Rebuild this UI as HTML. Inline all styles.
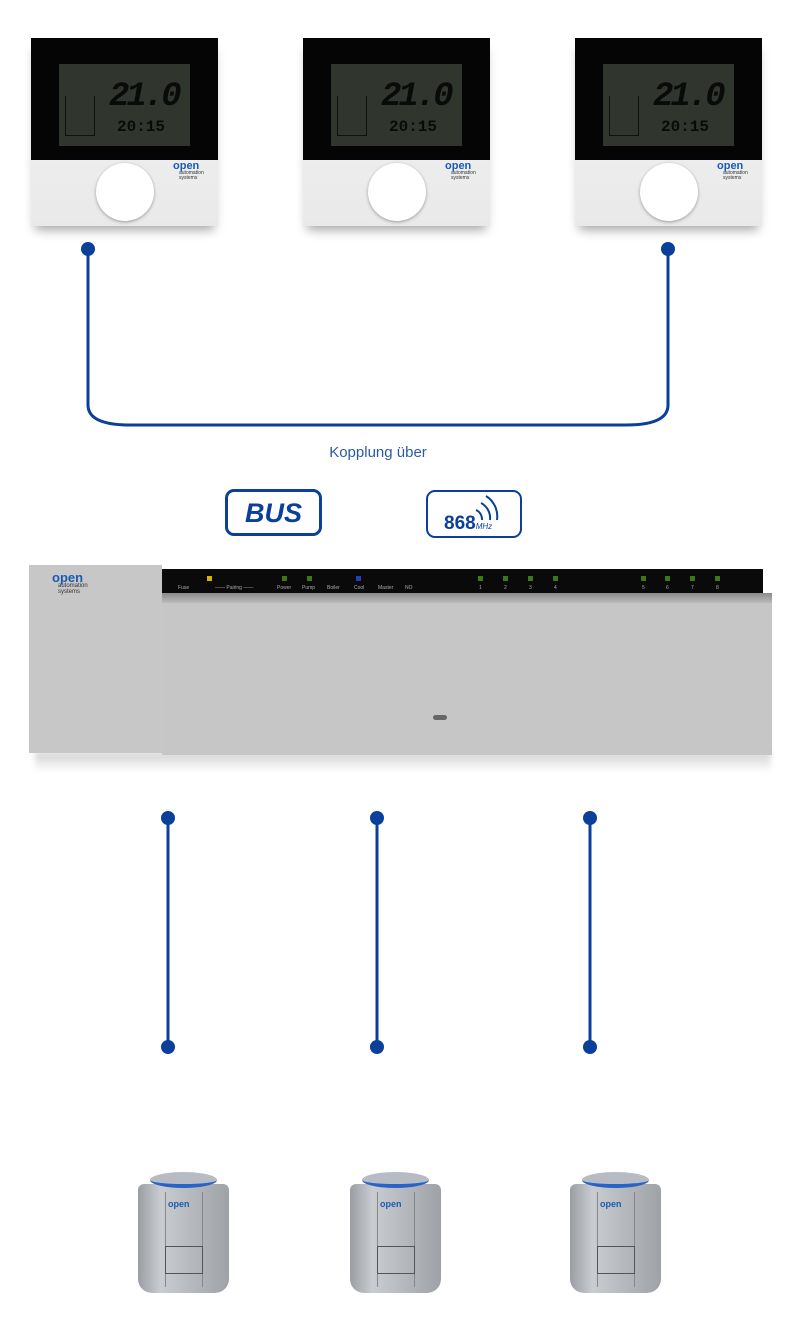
<!DOCTYPE html>
<html><head><meta charset="utf-8"><style>
*{margin:0;padding:0;box-sizing:border-box}
body{width:800px;height:1331px;background:#fff;position:relative;overflow:hidden;font-family:"Liberation Sans",sans-serif}
.a{position:absolute}
.th{position:absolute;width:187px;height:188px;background:linear-gradient(#f4f4f4,#e9e9e9);box-shadow:0 8px 10px -4px rgba(0,0,0,.35)}
.th .top{position:absolute;left:0;top:0;width:187px;height:122px;background:#050505}
.th .lcd{position:absolute;left:28px;top:26px;width:131px;height:82px;background:#30352e;color:#080808;overflow:hidden}
.th .big{position:absolute;left:50px;top:14px;font:bold 34px "Liberation Mono",monospace;letter-spacing:-3px;color:#0a0a0a;font-style:italic}
.th .sm{position:absolute;left:58px;top:54px;font:bold 16px "Liberation Mono",monospace;color:#0a0a0a}
.th .house{position:absolute;left:6px;top:32px;width:30px;height:40px;border:1px solid #111;border-top:none}
.th .knob{position:absolute;left:65px;top:125px;width:58px;height:58px;border-radius:50%;background:#fff;box-shadow:0 1px 3px rgba(0,0,0,.35)}
.logo{position:absolute;color:#1a5cb0;font:bold 11px "Liberation Sans",sans-serif;line-height:9px}
.logo i{display:block;font:normal 5px sans-serif;color:#333;font-style:normal;margin-left:6px;line-height:5px}
.act{position:absolute;width:91px;height:121px}
.act .b{position:absolute;left:0;top:12px;width:91px;height:109px;border-radius:6px 6px 14px 14px;background:linear-gradient(90deg,#9a9ea3,#c9ccd0 25%,#b8bbbf 55%,#9ea2a6)}
.act .c{position:absolute;left:12px;top:0;width:67px;height:16px;border-radius:50%;background:#b7bcc4;border-bottom:4px solid #2a63c8}
.act .p{position:absolute;left:27px;top:20px;width:38px;height:95px;border-left:1px solid #888;border-right:1px solid #888}
.act .q{position:absolute;left:27px;top:74px;width:38px;height:28px;border:1px solid #555}
.led{position:absolute;width:5px;height:5px;background:#3d7a16;top:576px}
.ll{position:absolute;top:585px;font:5px sans-serif;color:#aaa}
</style></head><body>

<div class="th" style="left:31px;top:38px"><div class="top"></div><div class="lcd"><div class="house"></div><div class="big">21.0</div><div class="sm">20:15</div></div><div class="knob"></div><div class="logo" style="left:142px;top:124px">open<i>automation<br>systems</i></div></div>
<div class="th" style="left:303px;top:38px"><div class="top"></div><div class="lcd"><div class="house"></div><div class="big">21.0</div><div class="sm">20:15</div></div><div class="knob"></div><div class="logo" style="left:142px;top:124px">open<i>automation<br>systems</i></div></div>
<div class="th" style="left:575px;top:38px"><div class="top"></div><div class="lcd"><div class="house"></div><div class="big">21.0</div><div class="sm">20:15</div></div><div class="knob"></div><div class="logo" style="left:142px;top:124px">open<i>automation<br>systems</i></div></div>

<svg class="a" style="left:0;top:0" width="800" height="1331">
<g stroke="#0a3f9a" stroke-width="3" fill="none">
<path d="M88 249 V405 Q88 425 130 425 H626 Q668 425 668 405 V249"/>
<line x1="168" y1="818" x2="168" y2="1047"/>
<line x1="377" y1="818" x2="377" y2="1047"/>
<line x1="590" y1="818" x2="590" y2="1047"/>
<path d="M476 510 a10 10 0 0 1 6 10 M481 503 a17 17 0 0 1 9 17 M486 496 a24 24 0 0 1 11 24" stroke-width="2"/>
</g>
<g fill="#0a3f9a">
<circle cx="88" cy="249" r="7"/><circle cx="668" cy="249" r="7"/>
<circle cx="168" cy="818" r="7"/><circle cx="377" cy="818" r="7"/><circle cx="590" cy="818" r="7"/>
<circle cx="168" cy="1047" r="7"/><circle cx="377" cy="1047" r="7"/><circle cx="590" cy="1047" r="7"/>
</g>
</svg>

<div class="a" style="left:300px;top:444px;width:156px;text-align:center;font-size:15px;color:#2a5aa8">Kopplung über</div>

<div class="a" style="left:225px;top:489px;width:97px;height:47px;border:3px solid #0a3f9a;border-radius:9px;color:#0a3f9a;font:italic bold 27px 'Liberation Sans',sans-serif;text-align:center;line-height:42px">BUS</div>
<div class="a" style="left:426px;top:490px;width:96px;height:48px;border:2px solid #0a3f9a;border-radius:9px"></div>
<div class="a" style="left:444px;top:513px;color:#0a3f9a;font:bold 19px 'Liberation Sans',sans-serif">868<span style="font:italic 8px sans-serif">MHz</span></div>

<div class="a" style="left:35px;top:752px;width:736px;height:20px;background:linear-gradient(rgba(0,0,0,.18),rgba(0,0,0,0));filter:blur(3px)"></div>
<div class="a" style="left:29px;top:565px;width:133px;height:188px;background:#c7c7c7"></div>
<div class="logo" style="left:52px;top:572px;font-size:13px;line-height:11px">open<i style="font-size:6px;line-height:6px">automation<br>systems</i></div>
<div class="a" style="left:162px;top:569px;width:601px;height:24px;background:#0a0a0a"></div>
<div class="a" style="left:162px;top:593px;width:610px;height:10px;background:linear-gradient(#8a8a8a,#bbb)"></div>
<div class="a" style="left:162px;top:603px;width:610px;height:152px;background:#c6c6c6"></div>
<div class="a" style="left:433px;top:715px;width:14px;height:5px;border-radius:3px;background:#666"></div>
<div class="led" style="left:207px;background:#d8b400"></div>
<div class="led" style="left:282px"></div><div class="led" style="left:307px"></div>
<div class="led" style="left:356px;background:#2240b0"></div>
<div class="led" style="left:478px"></div><div class="led" style="left:503px"></div><div class="led" style="left:528px"></div><div class="led" style="left:553px"></div>
<div class="led" style="left:641px"></div><div class="led" style="left:665px"></div><div class="led" style="left:690px"></div><div class="led" style="left:715px"></div>
<div class="ll" style="left:178px">Fuse</div><div class="ll" style="left:215px">—— Pairing ——</div><div class="ll" style="left:277px">Power</div><div class="ll" style="left:302px">Pump</div><div class="ll" style="left:327px">Boiler</div><div class="ll" style="left:354px">Cool</div><div class="ll" style="left:378px">Master</div><div class="ll" style="left:405px">NO</div>
<div class="ll" style="left:479px">1</div><div class="ll" style="left:504px">2</div><div class="ll" style="left:529px">3</div><div class="ll" style="left:554px">4</div><div class="ll" style="left:642px">5</div><div class="ll" style="left:666px">6</div><div class="ll" style="left:691px">7</div><div class="ll" style="left:716px">8</div>

<div class="act" style="left:138px;top:1172px"><div class="b"></div><div class="c"></div><div class="p"></div><div class="q"></div><div class="logo" style="left:30px;top:28px;font-size:9px">open</div></div>
<div class="act" style="left:350px;top:1172px"><div class="b"></div><div class="c"></div><div class="p"></div><div class="q"></div><div class="logo" style="left:30px;top:28px;font-size:9px">open</div></div>
<div class="act" style="left:570px;top:1172px"><div class="b"></div><div class="c"></div><div class="p"></div><div class="q"></div><div class="logo" style="left:30px;top:28px;font-size:9px">open</div></div>
</body></html>
